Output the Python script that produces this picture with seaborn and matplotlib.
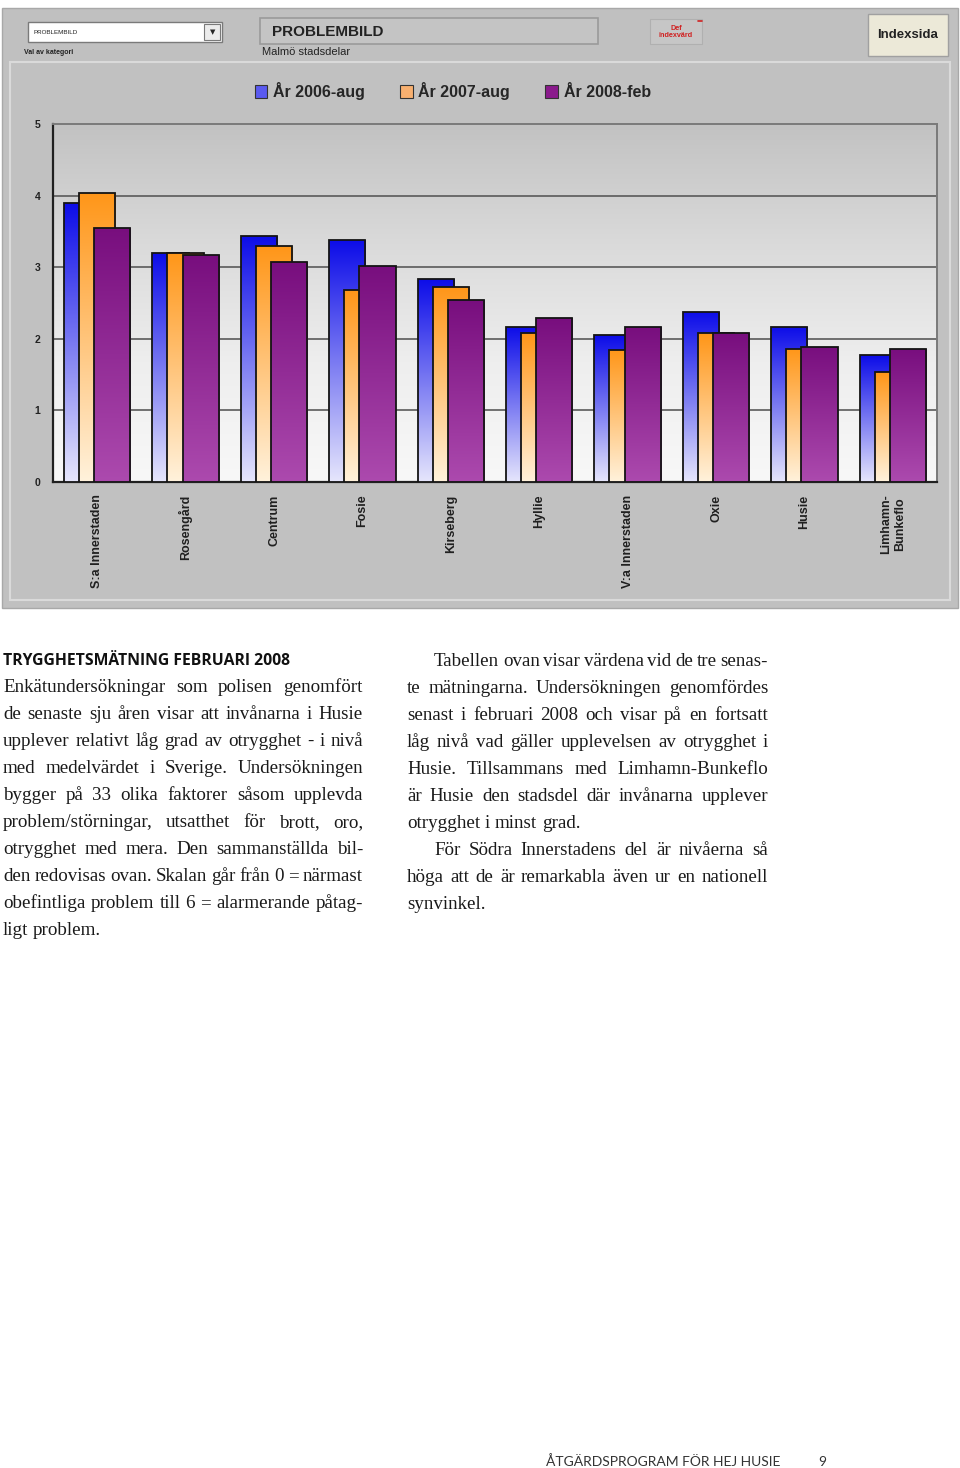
import numpy as np
import pandas as pd
import matplotlib
matplotlib.use("Agg")
import matplotlib.pyplot as plt
import seaborn as sns
from matplotlib.colors import LinearSegmentedColormap
from matplotlib.patches import Rectangle

sns.set_style("white")
plt.rcParams['font.family'] = ['Liberation Sans', 'DejaVu Sans']

# --- data ---
districts = ["S:a Innerstaden", "Rosengård", "Centrum", "Fosie", "Kirseberg",
             "Hyllie", "V:a Innerstaden", "Oxie", "Husie", "Limhamn-\nBunkeflo"]
periods = ["År 2006-aug", "År 2007-aug", "År 2008-feb"]
aug_2006 = [3.90, 3.20, 3.44, 3.38, 2.84, 2.17, 2.05, 2.38, 2.17, 1.77]
aug_2007 = [4.04, 3.20, 3.29, 2.68, 2.72, 2.08, 1.85, 2.08, 1.86, 1.53]
feb_2008 = [3.55, 3.17, 3.07, 3.02, 2.54, 2.29, 2.16, 2.08, 1.89, 1.86]
y_ticks = [0, 1, 2, 3, 4, 5]

left_heading = "TRYGGHETSMÄTNING FEBRUARI 2008"
left_lines = [
    "Enkätundersökningar som polisen genomfört",
    "de senaste sju åren visar att invånarna i Husie",
    "upplever relativt låg grad av otrygghet - i nivå",
    "med medelvärdet i Sverige. Undersökningen",
    "bygger på 33 olika faktorer såsom upplevda",
    "problem/störningar, utsatthet för brott, oro,",
    "otrygghet med mera. Den sammanställda bil-",
    "den redovisas ovan. Skalan går från 0 = närmast",
    "obefintliga problem till 6 = alarmerande påtag-",
    "ligt problem.",
]
right_lines = [
    "Tabellen ovan visar värdena vid de tre senas-",
    "te mätningarna. Undersökningen genomfördes",
    "senast i februari 2008 och visar på en fortsatt",
    "låg nivå vad gäller upplevelsen av otrygghet i",
    "Husie. Tillsammans med Limhamn-Bunkeflo",
    "är Husie den stadsdel där invånarna upplever",
    "otrygghet i minst grad.",
    "För Södra Innerstadens del är nivåerna så",
    "höga att de är remarkabla även ur en nationell",
    "synvinkel.",
]
footer = "ÅTGÄRDSPROGRAM FÖR HEJ HUSIE"
page_no = "9"

df = pd.DataFrame({
    "district": districts * 3,
    "period": [periods[0]] * 10 + [periods[1]] * 10 + [periods[2]] * 10,
    "value": aug_2006 + aug_2007 + feb_2008,
})

legend_colors = {"År 2006-aug": "#5a5af0", "År 2007-aug": "#f8b070", "År 2008-feb": "#8a1a8c"}
grad_colors = [("#0c0ce8", "#e6e6fc"), ("#ff9618", "#fff2dc"), ("#780e7e", "#ac4aae")]

fig = plt.figure(figsize=(9.6, 14.68), dpi=100)

# page overlay in pixel coordinates
bg = fig.add_axes([0, 0, 1, 1], zorder=0)
bg.set_xlim(0, 960)
bg.set_ylim(1468, 0)
bg.axis("off")

bg.add_patch(Rectangle((2, 8), 956, 600, fc="#c0c0c0", ec="#a8a8a8", lw=1))
bg.add_patch(Rectangle((10, 62), 940, 538, fc="#c1c1c1", ec="#dadada", lw=1.5))

# header widgets
bg.add_patch(Rectangle((28, 22), 194, 20, fc="white", ec="#7a7a7a", lw=1))
bg.add_patch(Rectangle((204, 24), 16, 16, fc="#ececec", ec="#7a7a7a", lw=0.8))
bg.text(213, 32, "▼", fontsize=5, ha="center", va="center", family="DejaVu Sans")
bg.text(33, 32, "PROBLEMBILD", fontsize=4.5, va="center", color="#222")
bg.text(24, 52, "Val av kategori", fontsize=5, va="center", fontweight="bold", color="#222")
bg.add_patch(Rectangle((260, 18), 338, 26, fc="#c4c4c4", ec="#9a9a9a", lw=1.2))
bg.text(272, 32, "PROBLEMBILD", fontsize=11, va="center", fontweight="bold", color="#222")
bg.text(262, 52, "Malmö stadsdelar", fontsize=8, va="center", color="#222")
bg.add_patch(Rectangle((650, 19), 52, 25, fc="#c6c6c6", ec="#b0b0b0", lw=0.8))
bg.text(676, 32, "Def\nindexvärd", fontsize=5.2, ha="center", va="center",
        color="#d02020", fontweight="bold", linespacing=1.0)
bg.plot([698, 702], [21, 21], color="#d02020", lw=1.2)
bg.add_patch(Rectangle((868, 14), 80, 42, fc="#ece9d8", ec="#a0a0a0", lw=1))
bg.text(908, 35, "Indexsida", fontsize=9.5, ha="center", va="center",
        fontweight="bold", color="#222")

# chart
ax = fig.add_axes([53 / 960, 1 - 482 / 1468, 884 / 960, 358 / 1468], zorder=1)
sns.barplot(data=df, x="district", y="value", hue="period", hue_order=periods,
            palette=legend_colors, width=0.51, saturation=1, ax=ax)

grad = np.linspace(0, 1, 256).reshape(-1, 1)
bar_w = 0.41
for i, cont in enumerate(ax.containers):
    cmap = LinearSegmentedColormap.from_list(f"g{i}", grad_colors[i])
    for bar in cont:
        cx = bar.get_x() + bar.get_width() / 2
        h = bar.get_height()
        bar.set_x(cx - bar_w / 2)
        bar.set_width(bar_w)
        bar.set_facecolor("none")
        bar.set_edgecolor("#141414")
        bar.set_linewidth(1.3)
        bar.set_zorder(3 + i)
        img = ax.imshow(grad, cmap=cmap, extent=[cx - bar_w / 2, cx + bar_w / 2, 0, h],
                        aspect="auto", origin="upper", zorder=2.9 + i, interpolation="bilinear")
        img.set_clip_path(bar)

# plot area background gradient and grid
bg_cmap = LinearSegmentedColormap.from_list("bgc", ["#c2c2c2", "#dadada", "#eeeeee", "#f8f8f8"])
ax.imshow(grad, cmap=bg_cmap, extent=[-0.5, 9.5, 0, 5], aspect="auto", origin="upper",
          zorder=0, interpolation="bilinear")
for v in y_ticks[1:-1]:
    ax.axhline(v, color="#5a5a5a", lw=1.2, zorder=1)

ax.set_xlim(-0.5, 9.5)
ax.set_ylim(0, 5)
ax.set_yticks(y_ticks)
ax.set_xlabel("")
ax.set_ylabel("")
ax.tick_params(axis="y", length=0, pad=9, labelsize=7.5, labelcolor="#222")
for lab in ax.get_yticklabels():
    lab.set_fontweight("bold")
ax.tick_params(axis="x", length=0, pad=9, labelsize=9, labelcolor="#202020")
for lab in ax.get_xticklabels():
    lab.set_rotation(90)
    lab.set_va("top")
    lab.set_ha("center")
    lab.set_fontweight("bold")
for side in ["left", "bottom"]:
    ax.spines[side].set_color("#202020")
    ax.spines[side].set_linewidth(1.6)
for side in ["top", "right"]:
    ax.spines[side].set_color("#7a7a7a")
    ax.spines[side].set_linewidth(1.4)

sns.move_legend(ax, "center", bbox_to_anchor=(0.452, 1.092), ncol=3, title=None,
                frameon=False, prop={"weight": "bold", "size": 11.5},
                handlelength=0.8, handleheight=0.8, handletextpad=0.35, columnspacing=2.2)
for h in ax.get_legend().legend_handles:
    h.set_edgecolor("#333")
    h.set_linewidth(0.8)

# text columns
renderer = fig.canvas.get_renderer()


def draw_line(line, x0, x1, y, justify, **kw):
    words = line.split(" ")
    texts = [bg.text(0, y, w, va="baseline", **kw) for w in words]
    widths = [t.get_window_extent(renderer).width for t in texts]
    if justify and len(words) > 1:
        gap = (x1 - x0 - sum(widths)) / (len(words) - 1)
    else:
        gap = kw.get("fontsize", 12) * 100 / 72 * 0.25
    x = x0
    for t, w in zip(texts, widths):
        t.set_x(x)
        x += w + gap


body = dict(fontsize=13.7, family="Liberation Serif", color="#1a1a1a")
bg.text(3, 665, left_heading, fontsize=11.3, fontweight="bold", family="Open Sans",
        color="#111", va="baseline")
last_left = {9}
for k, line in enumerate(left_lines):
    draw_line(line, 3, 363, 692 + 27 * k, k not in last_left, **body)

last_right = {6, 9}
indents = {0, 7}
for k, line in enumerate(right_lines):
    x0 = 434 if k in indents else 407
    draw_line(line, x0, 768, 666 + 27 * k, k not in last_right, **body)

bg.text(546, 1466, footer, fontsize=10, family="Lato", color="#333", va="baseline")
bg.text(818, 1466, page_no, fontsize=10, family="Lato", color="#333", va="baseline")

fig.savefig("out.png", dpi=100, facecolor="white")
